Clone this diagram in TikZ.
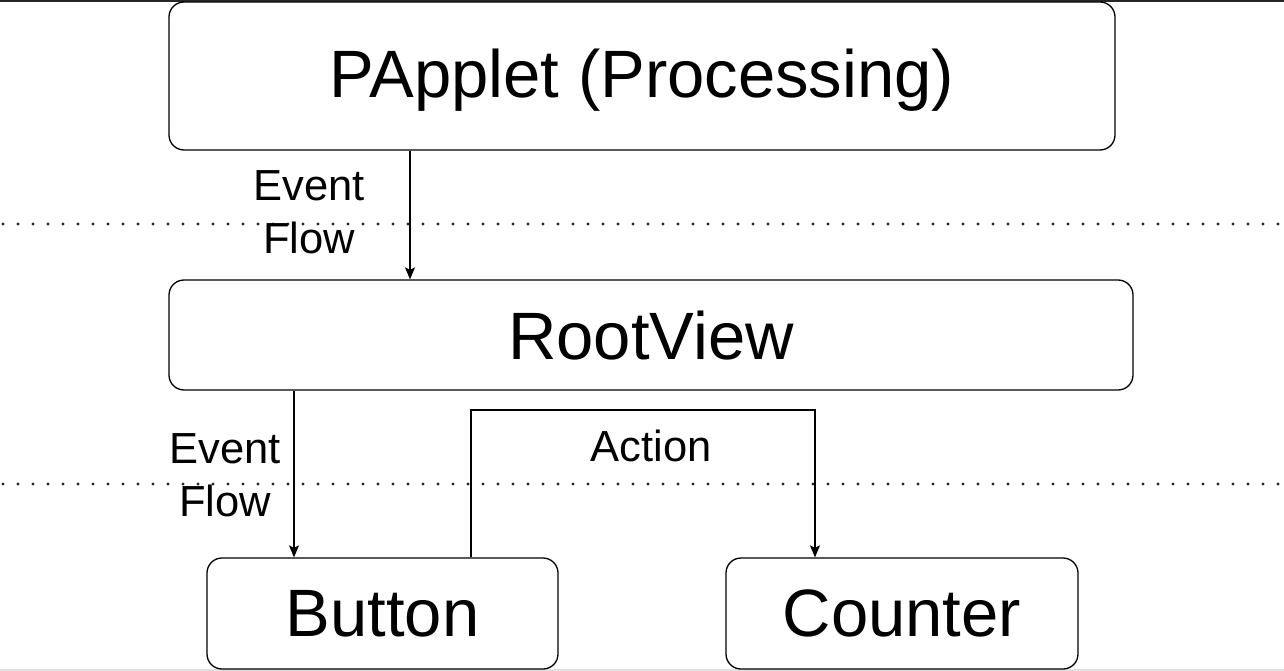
\documentclass[tikz,border=0pt]{standalone}
\usepackage{fontspec}
\setmainfont{Liberation Sans}
\usetikzlibrary{arrows.meta}
\newcommand{\dropby}[2]{\raisebox{-#1}[\height][\depth]{#2}}
\begin{document}
\begin{tikzpicture}[x=1pt,y=-1pt,
  box/.style={draw, line width=1.3pt, rounded corners=15pt, fill=white, inner sep=0pt,
    font=\fontsize{67}{80}\selectfont},
  lbl/.style={align=center, inner sep=0pt, font=\fontsize{43.5}{53}\selectfont},
  arr/.style={line width=1.3pt, -{Stealth[length=12pt,width=10pt,inset=2.5pt]}},
  sep/.style={line width=3.2pt, line cap=round, dash pattern=on 0pt off 15pt, black!85}]
\useasboundingbox (0,0) rectangle (1284,671);
\fill[white] (0,0) rectangle (1284,671);
% frame lines
\draw[line width=2pt, black!85] (0,1) -- (1284,1);
\draw[line width=1.5pt, black!12] (0,670) -- (1284,670);
% dotted separators
\draw[sep] (3,224) -- (1284,224);
\draw[sep] (3,484) -- (1284,484);
% boxes
\node[box, minimum width=946pt, minimum height=148pt] (pap) at (642,76) {\dropby{4pt}{PApplet (Processing)}};
\node[box, minimum width=964pt, minimum height=110pt] (root) at (651,335) {\dropby{1pt}{RootView}};
\node[box, minimum width=351pt, minimum height=111pt] (btn) at (382.5,613.5) {Button};
\node[box, minimum width=352pt, minimum height=111pt] (cnt) at (902,613.5) {Counter};
% coordinates
\coordinate (c1) at (410,200);
\coordinate (c2) at (294,470);
\coordinate (a1) at (471,410);
\coordinate (a2) at (815,410);
% connectors
\draw[arr] (pap.south -| c1) -- (root.north -| c1);
\draw[arr] (root.south -| c2) -- (btn.north -| c2);
\draw[arr] (btn.north -| a1) -- (a1) -- (a2) -- (cnt.north -| a2);
% labels
\node[lbl] (l1) at (309,212) {Event\\Flow};
\node[lbl] (l2) at (225,475) {Event\\Flow};
\node[lbl] (l3) at (651,446) {Action};
\end{tikzpicture}
\end{document}
